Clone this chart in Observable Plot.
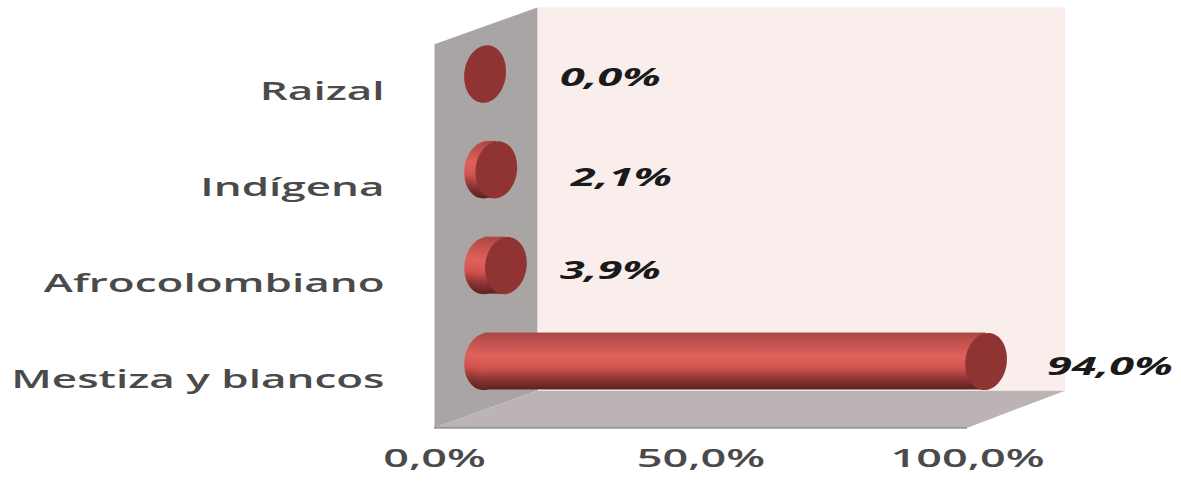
<!DOCTYPE html>
<html lang="es">
<head>
<meta charset="utf-8">
<title>Población por grupo étnico</title>
<script src="https://cdn.jsdelivr.net/npm/d3@7"></script>
<script src="https://cdn.jsdelivr.net/npm/@observablehq/plot@0.6"></script>
<style>
  html, body { margin: 0; padding: 0; background: #fff; }
  svg { display: block; }
</style>
</head>
<body>
<div id="chart"></div>
<script>
// Percentage of population per group, top row first
const categories = ["Raizal", "Indígena", "Afrocolombiano", "Mestiza y blancos"];
const values = [0.0, 2.1, 3.9, 94.0];
const xTicks = [0, 50, 100];

// Oblique depth of the chart box, in x-scale and row units
const depthX = 19.3;
const backRight = 118.3;
const depthY = -0.385;
const boxTop = -0.31;
const boxBottom = 3.69;
const cylinderRadius = 0.297;
const cylinderDepth = 9.5;

// Nudges that keep the value labels clear of the cylinders
const labelGapX = [23.5, 23.5, 19.6, 23.2];
const labelGapY = [0.04, 0.08, 0.06, 0.06];
const categoryDrop = 0.19;

const percent = (v) => v.toFixed(1).replace(".", ",") + "%";

const rows = categories.map((name, i) => ({
  name,
  value: values[i],
  row: i,
  start: cylinderDepth,
  end: cylinderDepth + values[i],
  gapX: labelGapX[i],
  gapY: labelGapY[i]
}));

const corner = (x, y) => ({x, y});
const leftWall = [
  corner(0, boxTop), corner(depthX, boxTop + depthY),
  corner(depthX, boxBottom + depthY), corner(0, boxBottom)
];
const floor = [
  corner(0, boxBottom), corner(100, boxBottom),
  corner(backRight, boxBottom + depthY), corner(depthX, boxBottom + depthY)
];
const backWall = [
  corner(depthX, boxTop + depthY), corner(backRight, boxTop + depthY),
  corner(backRight, boxBottom + depthY), corner(depthX, boxBottom + depthY)
];

// Ellipse used for the cylinder ends, sized through the dot's r
const ellipseSymbol = {
  draw(context, size) {
    const ry = Math.sqrt(size / Math.PI);
    const rx = ry * 0.72;
    const k = 0.5523;
    context.moveTo(rx, 0);
    context.bezierCurveTo(rx, k * ry, k * rx, ry, 0, ry);
    context.bezierCurveTo(-k * rx, ry, -rx, k * ry, -rx, 0);
    context.bezierCurveTo(-rx, -k * ry, -k * rx, -ry, 0, -ry);
    context.bezierCurveTo(k * rx, -ry, rx, -k * ry, rx, 0);
    context.closePath();
  }
};

// Vertical shading that gives the bars their round look
function gradients() {
  const defs = d3.create("svg:defs");
  const g = defs.append("linearGradient")
    .attr("id", "tube").attr("x1", 0).attr("y1", 0).attr("x2", 0).attr("y2", 1);
  [[0, "#a84644"], [0.14, "#bd4f4c"], [0.42, "#e0605b"], [0.62, "#d2544f"],
   [0.82, "#8c3433"], [1, "#5c2222"]]
    .forEach(([o, c]) => g.append("stop").attr("offset", o).attr("stop-color", c));
  return defs.node();
}

const labelFont = {fontFamily: "Open Sans", fontSize: 25, fontWeight: 600, fill: "#4a4a4a"};

const chart = Plot.plot({
  width: 1181,
  height: 495,
  marginLeft: 0,
  marginRight: 0,
  marginTop: 0,
  marginBottom: 68,
  x: {domain: [0, 100], range: [434, 967]},
  y: {domain: [0, 3], range: [73.5, 361], axis: null},
  marks: [
    gradients,
    Plot.line(backWall, {x: "x", y: "y", fill: "#faeeed", stroke: "none"}),
    Plot.line(leftWall, {x: "x", y: "y", fill: "#a8a5a4", stroke: "none"}),
    Plot.line(floor, {x: "x", y: "y", fill: "#bcb4b4", stroke: "none"}),
    Plot.ruleY([boxBottom], {x1: 0, x2: 100, stroke: "#9a9696", strokeWidth: 2}),
    Plot.dot(rows, {x: "start", y: "row", r: 28.7, symbol: ellipseSymbol, rotate: 8, fill: "url(#tube)", stroke: "none"}),
    Plot.rect(rows, {
      x1: "start", x2: "end",
      y1: (d) => d.row - cylinderRadius,
      y2: (d) => d.row + cylinderRadius,
      fill: "url(#tube)"
    }),
    Plot.dot(rows, {x: "end", y: "row", r: 28.7, symbol: ellipseSymbol, rotate: 8, fill: "#8f3333", stroke: "none"}),
    Plot.text(rows, {
      x: 0,
      y: (d) => d.row + categoryDrop,
      text: "name",
      textAnchor: "end",
      dx: -50,
      className: "category-label",
      ...labelFont
    }),
    Plot.text(rows, {
      x: (d) => d.end + d.gapX,
      y: (d) => d.row + d.gapY,
      text: (d) => percent(d.value),
      fontFamily: "Open Sans",
      fontSize: 25,
      fontWeight: 700,
      fontStyle: "italic",
      fill: "#1a1a1a"
    }),
    Plot.axisX({
      ticks: xTicks,
      tickSize: 0,
      tickPadding: 22,
      tickFormat: percent,
      label: null,
      ...labelFont
    })
  ]
});

document.getElementById("chart").appendChild(chart);

// Widen the lettering once it is in the document and can be measured
chart.querySelectorAll("text").forEach((t) => {
  const stretch = t.closest(".category-label") ? 1.76 : 1.8;
  t.setAttribute("lengthAdjust", "spacingAndGlyphs");
  t.setAttribute("textLength", t.getComputedTextLength() * stretch);
});
</script>
</body>
</html>
